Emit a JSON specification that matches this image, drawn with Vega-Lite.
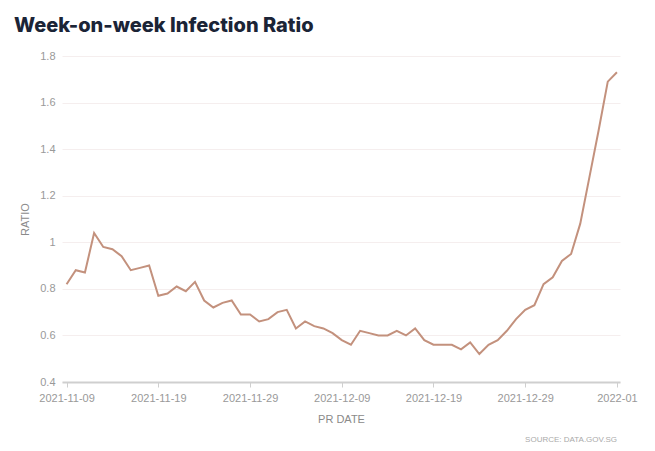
{
  "$schema": "https://vega.github.io/schema/vega-lite/v6.json",
  "width": 558,
  "height": 326,
  "autosize": {"type": "none"},
  "padding": {"left": 62, "top": 56, "right": 35, "bottom": 69},
  "background": "#ffffff",
  "config": {
    "view": {"stroke": null},
    "font": "Liberation Sans"
  },
  "title": {
    "text": "Week-on-week Infection Ratio",
    "font": "Inter",
    "fontSize": 20,
    "fontWeight": 800,
    "color": "#1b2436",
    "anchor": "start",
    "frame": "group",
    "dx": -48,
    "baseline": "alphabetic",
    "offset": -2
  },
  "data": {
    "values": [
      {"date": "2021-11-09", "ratio": 0.82},
      {"date": "2021-11-10", "ratio": 0.88},
      {"date": "2021-11-11", "ratio": 0.87},
      {"date": "2021-11-12", "ratio": 1.04},
      {"date": "2021-11-13", "ratio": 0.98},
      {"date": "2021-11-14", "ratio": 0.97},
      {"date": "2021-11-15", "ratio": 0.94},
      {"date": "2021-11-16", "ratio": 0.88},
      {"date": "2021-11-17", "ratio": 0.89},
      {"date": "2021-11-18", "ratio": 0.90},
      {"date": "2021-11-19", "ratio": 0.77},
      {"date": "2021-11-20", "ratio": 0.78},
      {"date": "2021-11-21", "ratio": 0.81},
      {"date": "2021-11-22", "ratio": 0.79},
      {"date": "2021-11-23", "ratio": 0.83},
      {"date": "2021-11-24", "ratio": 0.75},
      {"date": "2021-11-25", "ratio": 0.72},
      {"date": "2021-11-26", "ratio": 0.74},
      {"date": "2021-11-27", "ratio": 0.75},
      {"date": "2021-11-28", "ratio": 0.69},
      {"date": "2021-11-29", "ratio": 0.69},
      {"date": "2021-11-30", "ratio": 0.66},
      {"date": "2021-12-01", "ratio": 0.67},
      {"date": "2021-12-02", "ratio": 0.70},
      {"date": "2021-12-03", "ratio": 0.71},
      {"date": "2021-12-04", "ratio": 0.63},
      {"date": "2021-12-05", "ratio": 0.66},
      {"date": "2021-12-06", "ratio": 0.64},
      {"date": "2021-12-07", "ratio": 0.63},
      {"date": "2021-12-08", "ratio": 0.61},
      {"date": "2021-12-09", "ratio": 0.58},
      {"date": "2021-12-10", "ratio": 0.56},
      {"date": "2021-12-11", "ratio": 0.62},
      {"date": "2021-12-12", "ratio": 0.61},
      {"date": "2021-12-13", "ratio": 0.60},
      {"date": "2021-12-14", "ratio": 0.60},
      {"date": "2021-12-15", "ratio": 0.62},
      {"date": "2021-12-16", "ratio": 0.60},
      {"date": "2021-12-17", "ratio": 0.63},
      {"date": "2021-12-18", "ratio": 0.58},
      {"date": "2021-12-19", "ratio": 0.56},
      {"date": "2021-12-20", "ratio": 0.56},
      {"date": "2021-12-21", "ratio": 0.56},
      {"date": "2021-12-22", "ratio": 0.54},
      {"date": "2021-12-23", "ratio": 0.57},
      {"date": "2021-12-24", "ratio": 0.52},
      {"date": "2021-12-25", "ratio": 0.56},
      {"date": "2021-12-26", "ratio": 0.58},
      {"date": "2021-12-27", "ratio": 0.62},
      {"date": "2021-12-28", "ratio": 0.67},
      {"date": "2021-12-29", "ratio": 0.71},
      {"date": "2021-12-30", "ratio": 0.73},
      {"date": "2021-12-31", "ratio": 0.82},
      {"date": "2022-01-01", "ratio": 0.85},
      {"date": "2022-01-02", "ratio": 0.92},
      {"date": "2022-01-03", "ratio": 0.95},
      {"date": "2022-01-04", "ratio": 1.08},
      {"date": "2022-01-05", "ratio": 1.28},
      {"date": "2022-01-06", "ratio": 1.48},
      {"date": "2022-01-07", "ratio": 1.69},
      {"date": "2022-01-08", "ratio": 1.73}
    ]
  },
  "layer": [
    {
      "mark": {"type": "line", "color": "#c3917d", "strokeWidth": 2, "interpolate": "linear"},
      "encoding": {
        "x": {
          "field": "date",
          "type": "temporal",
          "scale": {
            "type": "utc",
            "domain": [
              {"year": 2021, "month": 11, "date": 8, "hours": 12, "utc": true},
              {"year": 2022, "month": 1, "date": 8, "hours": 8, "utc": true}
            ]
          },
          "axis": {
            "title": "PR DATE",
            "titleFont": "Liberation Sans",
            "titleFontSize": 11,
            "titleFontWeight": "normal",
            "titleColor": "#8a8a8a",
            "titlePadding": 10,
            "values": [
              {"year": 2021, "month": 11, "date": 9, "utc": true},
              {"year": 2021, "month": 11, "date": 19, "utc": true},
              {"year": 2021, "month": 11, "date": 29, "utc": true},
              {"year": 2021, "month": 12, "date": 9, "utc": true},
              {"year": 2021, "month": 12, "date": 19, "utc": true},
              {"year": 2021, "month": 12, "date": 29, "utc": true},
              {"year": 2022, "month": 1, "date": 8, "utc": true}
            ],
            "labelExpr": "utcFormat(datum.value, '%Y') == '2022' ? '2022-01' : utcFormat(datum.value, '%Y-%m-%d')",
            "labelFontSize": 11,
            "labelColor": "#999999",
            "labelPadding": 5,
            "domainColor": "#cfcfcf",
            "domainWidth": 2,
            "tickColor": "#cfcfcf",
            "tickSize": 5,
            "grid": false
          }
        },
        "y": {
          "field": "ratio",
          "type": "quantitative",
          "scale": {"domain": [0.4, 1.8], "nice": false, "zero": false},
          "axis": {
            "title": "RATIO",
            "titleFont": "Liberation Sans",
            "titleFontSize": 11,
            "titleFontWeight": "normal",
            "titleColor": "#8a8a8a",
            "titlePadding": 9,
            "values": [0.4, 0.6, 0.8, 1.0, 1.2, 1.4, 1.6, 1.8],
            "format": ".1~f",
            "labelFontSize": 11,
            "labelColor": "#999999",
            "labelPadding": 7,
            "domain": false,
            "ticks": false,
            "grid": true,
            "gridColor": "#f5eeee",
            "gridWidth": 1
          }
        }
      }
    },
    {
      "mark": {"type": "text", "align": "right", "baseline": "middle", "fontSize": 8, "color": "#aaaaaa", "dy": 58, "font": "Liberation Sans"},
      "data": {"values": [{"date": "2022-01-08", "ratio": 0.4, "label": "SOURCE: DATA.GOV.SG"}]},
      "encoding": {
        "x": {"field": "date", "type": "temporal"},
        "y": {"field": "ratio", "type": "quantitative"},
        "text": {"field": "label"}
      }
    }
  ]
}
